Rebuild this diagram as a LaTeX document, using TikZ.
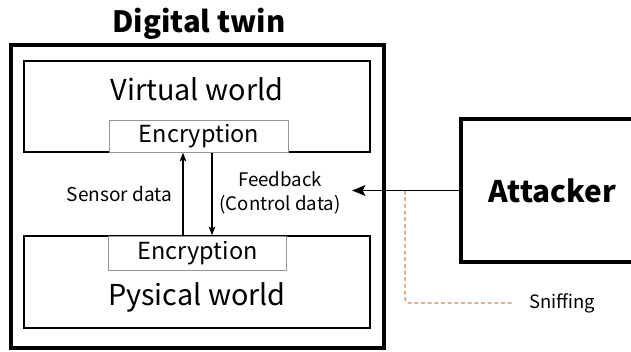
\documentclass[tikz,border=0pt]{standalone}
\usepackage{fontspec}
\setmainfont{Noto Sans CJK JP}
\usetikzlibrary{arrows.meta}

\definecolor{sniffcol}{RGB}{190,140,95}
\definecolor{enccol}{RGB}{150,150,150}

\tikzset{
  worldbox/.style={draw, line width=1.2pt, minimum width=259.5pt, inner sep=0pt},
  encbox/.style={draw=enccol, line width=0.6pt, fill=white, minimum width=134pt, inner sep=0pt},
  flow/.style={line width=0.8pt, -{Stealth[length=6.5pt,width=5pt,inset=1.5pt]}},
  attack/.style={line width=1.4pt, -{Stealth[length=10pt,width=8pt,inset=2pt]}},
}

\begin{document}
\begin{tikzpicture}[x=0.75pt,y=0.75pt,yscale=-1,xscale=1]
\useasboundingbox (0,0) rectangle (631,351);

% Digital twin frame
\node (twin) [draw, line width=3pt, minimum width=279.75pt, minimum height=227.25pt, inner sep=0pt] at (197.5,196.5) {};
\node (twinLabel) [font=\bfseries\fontsize{22}{26}\selectfont] at (199,24) {Digital twin};

% Worlds
\node (virtual) [worldbox, minimum height=68.25pt] at (197,106.5) {};
\node (virtualLabel) [font=\fontsize{21.6}{26}\selectfont] at (197,89) {Virtual world};
\node (physical) [worldbox, minimum height=69pt] at (197,282) {};
\node (physicalLabel) [font=\fontsize{21.6}{26}\selectfont] at (197,297) {Pysical world};

% Encryption boxes
\node (encV) [encbox, minimum height=24pt, font=\fontsize{17.6}{21}\selectfont] at (199,136) {Encryption};
\node (encP) [encbox, minimum height=25.5pt, font=\fontsize{17.6}{21}\selectfont] at (197.5,253) {Encryption};

% Data flows
\coordinate (sensX) at (183,0);
\coordinate (feedX) at (212,0);
\draw [flow] (sensX |- physical.north) -- (sensX |- virtual.south);
\draw [flow] (feedX |- virtual.south) -- (feedX |- physical.north);
\node (sensorLabel) [anchor=east, font=\fontsize{14.3}{18}\selectfont] at (177,194) {Sensor data};
\node (feedLabel) [align=center, font=\fontsize{14}{18}\selectfont] at (280,193) {Feedback\\(Control data)};

% Attacker
\node (attacker) [draw, line width=3pt, minimum width=137.25pt, minimum height=107.25pt, inner sep=0pt, font=\bfseries\fontsize{22.3}{27}\selectfont] at (552.5,190.5) {Attacker};
\coordinate (hit) at (352,190.5);
\draw [attack] (attacker.west) -- (hit);

% Sniffing
\coordinate (tap) at (405,190.5);
\node (sniffing) [anchor=west, inner xsep=12pt, font=\fontsize{13.8}{17}\selectfont] at (513,303) {Sniffing};
\draw [sniffcol, line width=0.8pt, dash pattern={on 3pt off 2pt}, rounded corners=3pt] (tap) |- (sniffing.west);

\end{tikzpicture}
\end{document}
